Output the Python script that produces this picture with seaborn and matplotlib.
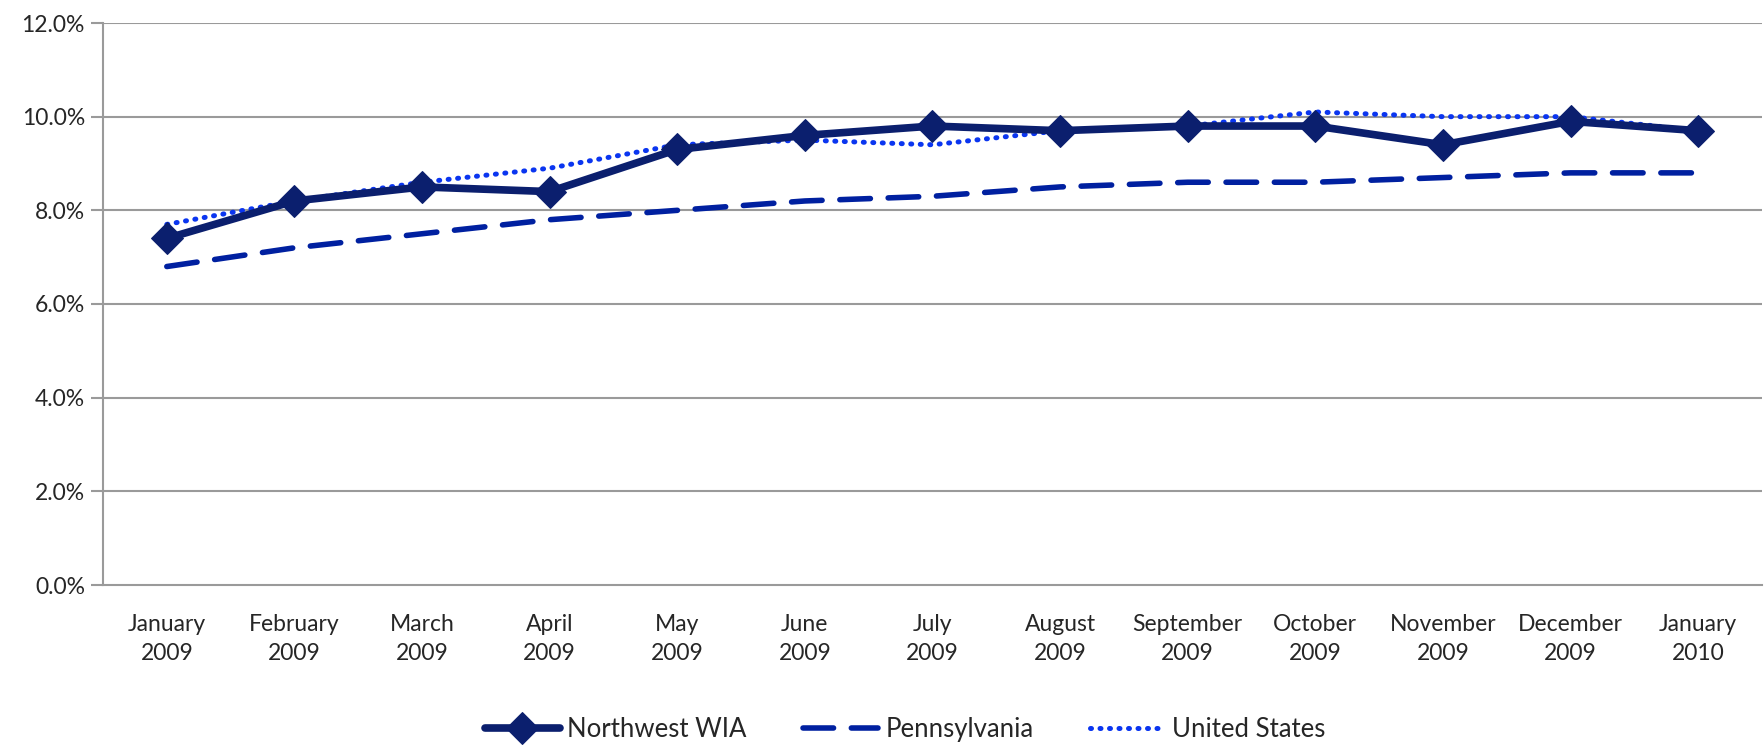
import seaborn as sns
import numpy as np
import pandas as pd
import matplotlib.pyplot as plt
from matplotlib.ticker import FuncFormatter, FixedLocator

months = ["January\n2009", "February\n2009", "March\n2009", "April\n2009", "May\n2009",
          "June\n2009", "July\n2009", "August\n2009", "September\n2009", "October\n2009",
          "November\n2009", "December\n2009", "January\n2010"]
northwest = [7.4, 8.2, 8.5, 8.4, 9.3, 9.6, 9.8, 9.7, 9.8, 9.8, 9.4, 9.9, 9.7]
pennsylvania = [6.8, 7.2, 7.5, 7.8, 8.0, 8.2, 8.3, 8.5, 8.6, 8.6, 8.7, 8.8, 8.8]
united_states = [7.7, 8.2, 8.6, 8.9, 9.4, 9.5, 9.4, 9.7, 9.8, 10.1, 10.0, 10.0, 9.7]

sns.set_style("white")
plt.rcParams['font.family'] = ['Lato', 'DejaVu Sans']

pos = np.arange(len(months))
df = pd.DataFrame({"pos": pos, "Northwest WIA": northwest,
                   "Pennsylvania": pennsylvania, "United States": united_states})

fig = plt.figure(figsize=(17.65, 7.46), dpi=100)
ax = fig.add_axes([103 / 1765, 1 - 585 / 746, (1762 - 103) / 1765, (585 - 23) / 746])

grey = "#9a9a9a"
for y in np.arange(2, 13, 2):
    ax.axhline(y, color=grey, lw=1.5, zorder=0)

sns.lineplot(data=df, x="pos", y="Pennsylvania", ax=ax, color="#0020a0", lw=4,
             label="Pennsylvania", zorder=2)
ax.lines[-1].set_dashes([5.5, 3.2])
ax.lines[-1].set_dash_capstyle("round")
sns.lineplot(data=df, x="pos", y="United States", ax=ax, color="#0a35f0", lw=3.6,
             label="United States", zorder=3)
ax.lines[-1].set_dashes([0.2, 1.7])
ax.lines[-1].set_dash_capstyle("round")
sns.lineplot(data=df, x="pos", y="Northwest WIA", ax=ax, color="#0b1f6e", lw=5.5,
             marker="D", markersize=16, markeredgecolor="#0b1f6e", label="Northwest WIA", zorder=4)

ax.set_xlim(-0.5, len(months) - 0.5)
ax.set_ylim(0, 12)
ax.set_xticks(pos)
ax.set_xticklabels(months, fontsize=16.5, linespacing=1.45)
ax.xaxis.set_minor_locator(FixedLocator(np.arange(-0.5, len(months), 1)))
ax.tick_params(axis="x", which="major", length=0, pad=21)
ax.tick_params(axis="x", which="minor", length=10, width=1.5, color=grey, direction="out")
ax.set_yticks(np.arange(0, 13, 2))
ax.yaxis.set_major_formatter(FuncFormatter(lambda v, p: f"{v:.1f}%"))
ax.tick_params(axis="y", length=9, width=1.5, color=grey, direction="out", labelsize=16.5, pad=4)
ax.tick_params(axis="both", bottom=True, left=True)
ax.set_xlabel("")
ax.set_ylabel("")

for s in ["top", "right"]:
    ax.spines[s].set_visible(False)
for s in ["left", "bottom"]:
    ax.spines[s].set_color(grey)
    ax.spines[s].set_linewidth(1.5)

ax.get_legend().remove()
handles, labels = ax.get_legend_handles_labels()
order = [labels.index(n) for n in ["Northwest WIA", "Pennsylvania", "United States"]]
fig.legend([handles[i] for i in order], [labels[i] for i in order], loc="center",
           bbox_to_anchor=(0.513, 0.022), ncol=3, frameon=False, fontsize=18.5,
           handlelength=2.9, columnspacing=2.2, handletextpad=0.3)

fig.savefig("out.png", dpi=100)
